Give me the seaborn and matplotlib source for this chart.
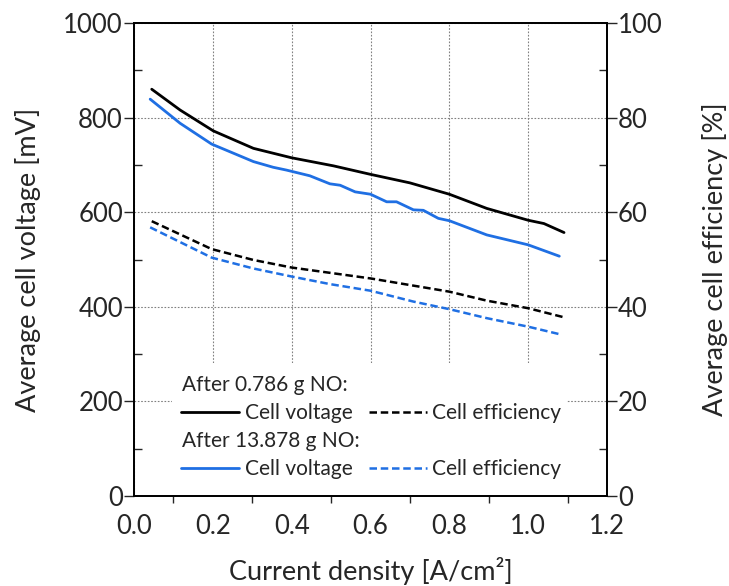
import numpy as np
import pandas as pd
import matplotlib
matplotlib.use("Agg")
import matplotlib.pyplot as plt
import seaborn as sns
from matplotlib.ticker import MultipleLocator
from matplotlib.patches import Rectangle
from matplotlib.lines import Line2D
from matplotlib.legend import Legend

# Data
cd_v1 = [0.045, 0.117, 0.201, 0.303, 0.40, 0.506, 0.60, 0.70, 0.80, 0.895, 1.0, 1.04, 1.091]
volt_1 = [860, 816, 772, 735, 715, 698, 680, 662, 638, 608, 583, 576, 557]

cd_v2 = [0.041, 0.117, 0.197, 0.303, 0.353, 0.387, 0.446, 0.497, 0.523, 0.561, 0.60,
         0.641, 0.666, 0.709, 0.734, 0.772, 0.80, 0.895, 1.0, 1.079]
volt_2 = [839, 788, 744, 707, 695, 689, 677, 660, 657, 643, 638,
          622, 622, 605, 604, 587, 582, 552, 531, 507]

cd_e1 = [0.045, 0.197, 0.303, 0.40, 0.60, 0.80, 0.895, 1.0, 1.09]
eff_1 = [58.1, 52.2, 49.9, 48.3, 46.0, 43.2, 41.3, 39.7, 37.8]

cd_e2 = [0.041, 0.197, 0.303, 0.40, 0.497, 0.60, 0.709, 0.80, 0.895, 1.0, 1.08]
eff_2 = [56.8, 50.4, 48.1, 46.4, 44.8, 43.4, 41.1, 39.5, 37.6, 35.8, 34.2]

groups = ["After 0.786 g NO:", "After 13.878 g NO:"]
series_labels = ["Cell voltage", "Cell efficiency"]

blue = "#1f6fe3"
dash = (0, (3, 1.5))

sns.set_style("white")
plt.rcParams['font.family'] = ["Lato", "DejaVu Sans"]

fig = plt.figure(figsize=(7.29, 5.86), dpi=100)
ax = fig.add_axes([134/729, 1-496/586, 473/729, 473/586])
ax2 = ax.twinx()

sns.lineplot(x=cd_v1, y=volt_1, ax=ax, color="black", lw=2.0)
sns.lineplot(x=cd_v2, y=volt_2, ax=ax, color=blue, lw=2.0)
sns.lineplot(x=cd_e1, y=eff_1, ax=ax2, color="black", lw=1.8, linestyle=dash)
sns.lineplot(x=cd_e2, y=eff_2, ax=ax2, color=blue, lw=1.8, linestyle=dash)

ax.set_xlim(0, 1.2)
ax.set_ylim(0, 1000)
ax2.set_ylim(0, 100)

ax.xaxis.set_major_locator(MultipleLocator(0.2))
ax.xaxis.set_minor_locator(MultipleLocator(0.1))
ax.yaxis.set_major_locator(MultipleLocator(200))
ax.yaxis.set_minor_locator(MultipleLocator(100))
ax2.yaxis.set_major_locator(MultipleLocator(20))
ax2.yaxis.set_minor_locator(MultipleLocator(10))
ax.set_xticks(np.arange(0, 1.21, 0.2))
ax.set_xticklabels([f"{v:.1f}" for v in np.arange(0, 1.21, 0.2)])

ax.grid(True, which="major", color="#808080", linestyle=(0, (1.5, 1.5)), lw=0.8)
ax.set_axisbelow(True)

for a in (ax, ax2):
    for s in a.spines.values():
        s.set_color("black")
        s.set_linewidth(1.3)

ax.tick_params(axis="y", which="major", direction="out", length=7, width=1, labelsize=18.5, pad=1)
ax.tick_params(axis="y", which="minor", direction="in", length=6, width=1, left=True)
ax.tick_params(axis="x", which="major", direction="out", length=7, width=1, labelsize=18.5, pad=6)
ax.tick_params(axis="x", which="minor", direction="out", length=5, width=1, bottom=True)
ax2.tick_params(axis="y", which="major", direction="out", length=7, width=1, labelsize=18.5, pad=1)
ax2.tick_params(axis="y", which="minor", direction="in", length=6, width=1, right=True)

ax.set_xlabel("Current density [A/cm²]", fontsize=19.5, labelpad=13)
ax.set_ylabel("Average cell voltage [mV]", fontsize=19.5, labelpad=16)
ax2.set_ylabel("Average cell efficiency [%]", fontsize=19.5, labelpad=28)

# white legend area hiding the grid
ax2.add_patch(Rectangle((38/473, 0.003), 395/473, 132/473, transform=ax.transAxes,
                        facecolor="white", edgecolor="none", zorder=1))

for color, group, yhead, yrow in (("black", groups[0], 385, 413), (blue, groups[1], 441, 469)):
    ax2.text(48/473, (496-yhead)/473, group, transform=ax.transAxes,
             fontsize=15, va="center", ha="left", zorder=3)
    h = [Line2D([], [], color=color, lw=2.0),
         Line2D([], [], color=color, lw=1.8, linestyle=dash)]
    leg = Legend(ax2, h, series_labels, ncol=2, frameon=False,
                 fontsize=15, loc="center left", handlelength=2.8, handletextpad=0.25,
                 columnspacing=0.8, borderpad=0, borderaxespad=0,
                 bbox_to_anchor=(47/473, (496-yrow)/473), bbox_transform=ax.transAxes)
    leg.set_zorder(3)
    ax2.add_artist(leg)

fig.savefig("out.png", dpi=100)
